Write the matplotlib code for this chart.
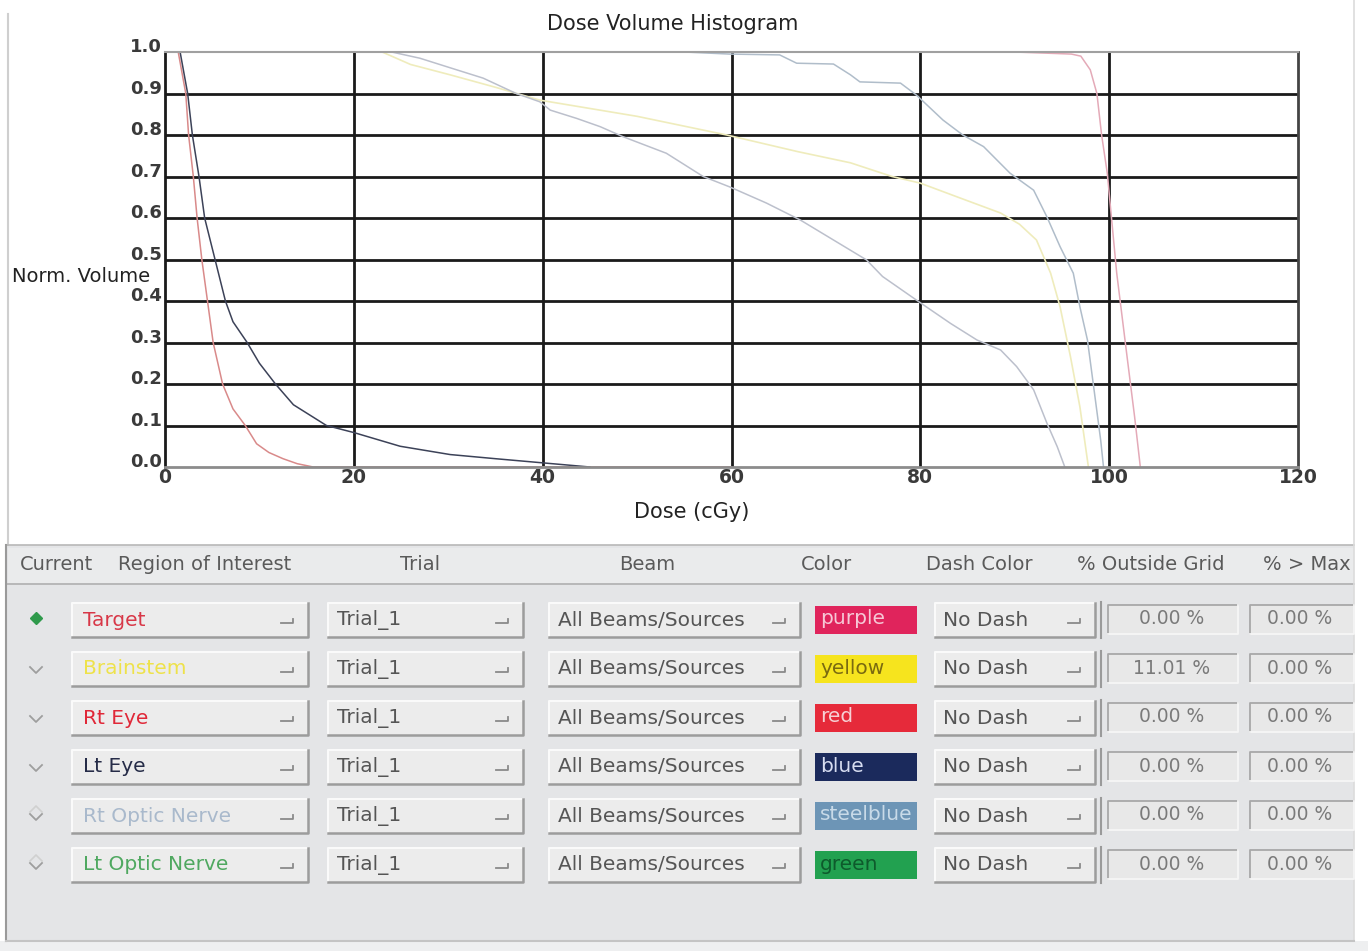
import matplotlib
matplotlib.use('Agg')
import matplotlib.pyplot as plt
from matplotlib.patches import Rectangle

plt.rcParams['font.family'] = 'DejaVu Sans'
plt.rcParams['ytick.alignment'] = 'baseline'

# DVH curves (dose in cGy, normalised volume)
target_dose = [0, 90, 96, 97, 98, 98.7, 99.2, 99.8, 100.8, 101.9, 102.7, 103.3]
target_vol = [1.0, 1.0, 0.995, 0.99, 0.957, 0.9, 0.8, 0.708, 0.467, 0.265, 0.12, 0.0]

brainstem_dose = [0, 20, 23, 26, 30.2, 35, 39.7, 50, 59.5, 67, 72.6, 77, 80, 84, 88.5, 90.5, 92.3, 93.8, 94.8, 95.9, 96.9, 97.8]
brainstem_vol = [1.0, 1.0, 1.0, 0.97, 0.945, 0.915, 0.884, 0.845, 0.80, 0.76, 0.733, 0.70, 0.684, 0.65, 0.612, 0.585, 0.547, 0.467, 0.386, 0.266, 0.145, 0.0]

rt_eye_dose = [0, 1.4, 2.2, 2.5, 3.0, 3.4, 3.9, 4.5, 5.1, 6.1, 7.2, 8.5, 9.7, 11.0, 12.5, 14.0, 15.7, 30, 45, 60]
rt_eye_vol = [1.0, 1.0, 0.9, 0.8, 0.7, 0.6, 0.5, 0.4, 0.3, 0.2, 0.14, 0.1, 0.056, 0.035, 0.02, 0.008, 0.0, 0.0, 0.0, 0.0]

lt_eye_dose = [0, 1.6, 2.4, 2.9, 3.6, 4.2, 5.3, 6.4, 7.2, 8.7, 10.0, 11.7, 13.6, 17.1, 20, 24.9, 30.2, 35, 40, 45]
lt_eye_vol = [1.0, 1.0, 0.9, 0.8, 0.7, 0.6, 0.5, 0.4, 0.35, 0.3, 0.25, 0.2, 0.15, 0.1, 0.083, 0.05, 0.03, 0.02, 0.01, 0.0]

rt_on_dose = [0, 55, 59.8, 65.1, 66.9, 70.8, 72.6, 73.6, 77.9, 79.6, 82.4, 84.5, 86.7, 89.5, 92.0, 93.4, 94.8, 96.2, 96.9, 97.7, 98.4, 99.1, 99.4]
rt_on_vol = [1.0, 1.0, 0.995, 0.993, 0.973, 0.971, 0.945, 0.928, 0.925, 0.896, 0.836, 0.80, 0.772, 0.708, 0.667, 0.603, 0.531, 0.467, 0.386, 0.306, 0.186, 0.065, 0.0]

lt_on_dose = [0, 20, 24, 27, 30.2, 33.7, 37.2, 39.7, 40.8, 43.6, 46.1, 48.5, 53.1, 57, 59.8, 63.7, 67.3, 70.8, 74.3, 76, 79.6, 83.2, 86, 88.5, 90.2, 92, 93.4, 94.5, 95.3]
lt_on_vol = [1.0, 1.0, 1.0, 0.985, 0.962, 0.937, 0.90, 0.88, 0.86, 0.84, 0.82, 0.796, 0.756, 0.70, 0.675, 0.636, 0.595, 0.547, 0.499, 0.459, 0.402, 0.346, 0.306, 0.282, 0.242, 0.186, 0.106, 0.049, 0.0]

xticks = [0, 20, 40, 60, 80, 100, 120]
yticks = [0.0, 0.1, 0.2, 0.3, 0.4, 0.5, 0.6, 0.7, 0.8, 0.9, 1.0]

# table below the plot
roi_names = ['Target', 'Brainstem', 'Rt Eye', 'Lt Eye', 'Rt Optic Nerve', 'Lt Optic Nerve']
roi_text_colors = ['#d83848', '#eee24a', '#e02838', '#262c48', '#a9b9cc', '#4fa860']
trials = ['Trial_1'] * 6
beams = ['All Beams/Sources'] * 6
color_names = ['purple', 'yellow', 'red', 'blue', 'steelblue', 'green']
swatch_colors = ['#e0245c', '#f6e41e', '#e62a3a', '#1b2a5c', '#6d95b6', '#22a150']
swatch_text = ['#f6c8d6', '#7a6a10', '#f6d0d4', '#d6dcf0', '#c8dae8', '#0e5a2c']
dashes = ['No Dash'] * 6
outside_grid = ['0.00 %', '11.01 %', '0.00 %', '0.00 %', '0.00 %', '0.00 %']
over_max = ['0.00 %'] * 6
headers = ['Current', 'Region of Interest', 'Trial', 'Beam', 'Color', 'Dash Color', '% Outside Grid', '% > Max']

fig = plt.figure(figsize=(13.68, 9.51), dpi=100)
fig.patch.set_facecolor('white')

ui = fig.add_axes([0, 0, 1, 1])
ui.set_xlim(0, 1368)
ui.set_ylim(951, 0)
ui.axis('off')

# panel background
ui.plot([8, 8], [14, 545], color='#cfcfcf', lw=1.5)
ui.add_patch(Rectangle((6, 545), 1348, 396, fc='#e4e5e7', ec='none'))
ui.add_patch(Rectangle((0, 941), 1368, 10, fc='#eeeff0', ec='none'))
ui.add_patch(Rectangle((8, 548), 1346, 35, fc='#eaebec', ec='none'))
ui.plot([6, 1354], [545, 545], color='#b8b8b8', lw=1.2)
ui.plot([6, 1354], [584, 584], color='#b0b0b0', lw=1.2)
ui.plot([6, 6], [545, 941], color='#9a9a9a', lw=1.5)
ui.plot([1354, 1354], [0, 941], color='#dcdcdc', lw=1.2)
ui.plot([6, 1354], [941, 941], color='#c4c4c4', lw=1.5)

hdr_kw = dict(fontsize=14, color='#5a5a5a', va='center')
ui.text(20, 565, headers[0], ha='left', **hdr_kw)
ui.text(118, 565, headers[1], ha='left', **hdr_kw)
ui.text(420, 565, headers[2], ha='center', **hdr_kw)
ui.text(647, 565, headers[3], ha='center', **hdr_kw)
ui.text(826, 565, headers[4], ha='center', **hdr_kw)
ui.text(926, 565, headers[5], ha='left', **hdr_kw)
ui.text(1077, 565, headers[6], ha='left', **hdr_kw)
ui.text(1263, 565, headers[7], ha='left', **hdr_kw)


def raised(x0, y0, x1, y1, mark=True):
    ui.add_patch(Rectangle((x0, y0), x1 - x0, y1 - y0, fc='#ececec', ec='none'))
    ui.plot([x0, x0, x1], [y1, y0, y0], color='#fafafa', lw=1.5)
    ui.plot([x0, x1, x1], [y1, y1, y0], color='#9c9c9c', lw=1.8)
    if mark:
        xm, ym = x1 - 20, (y0 + y1) / 2
        ui.plot([xm - 7, xm + 5, xm + 5], [ym + 3, ym + 3, ym - 1], color='#8a8a8a', lw=1.3)


def sunken(x0, y0, x1, y1):
    ui.add_patch(Rectangle((x0, y0), x1 - x0, y1 - y0, fc='#e8e8e8', ec='none'))
    ui.plot([x0, x0, x1], [y1, y0, y0], color='#a8a8a8', lw=1.3)
    ui.plot([x0, x1, x1], [y1, y1, y0], color='#f6f6f6', lw=1.3)


row_y = [620, 669, 718, 767, 816, 865]
txt_kw = dict(fontsize=14.5, va='center')
for i, yc in enumerate(row_y):
    # current selector
    if i == 0:
        ui.plot([36], [yc - 2], marker='D', ms=6, color='#2f9a4c')
    else:
        ui.plot([30, 36, 42], [yc - 2, yc + 4, yc - 2], color='#9e9e9e', lw=1.3)
        if i >= 4:
            ui.plot([30, 36, 42], [yc - 4, yc - 10, yc - 4], color='#d0d0d0', lw=1.2)
    raised(72, yc - 17, 308, yc + 17)
    ui.text(83, yc, roi_names[i], color=roi_text_colors[i], ha='left', **txt_kw)
    raised(328, yc - 17, 523, yc + 17)
    ui.text(337, yc, trials[i], color='#555555', ha='left', **txt_kw)
    raised(549, yc - 17, 800, yc + 17)
    ui.text(558, yc, beams[i], color='#555555', ha='left', **txt_kw)
    ui.add_patch(Rectangle((815, yc - 14), 102, 28, fc=swatch_colors[i], ec='none'))
    ui.text(820, yc - 1, color_names[i], color=swatch_text[i], ha='left', **txt_kw)
    raised(935, yc - 17, 1095, yc + 17)
    ui.text(943, yc, dashes[i], color='#555555', ha='left', **txt_kw)
    ui.plot([1101, 1101], [yc - 18, yc + 18], color='#9a9a9a', lw=1.5)
    sunken(1108, yc - 15, 1238, yc + 14)
    ui.text(1172, yc - 1, outside_grid[i], color='#7a7a7a', ha='center', fontsize=13.5, va='center')
    sunken(1250, yc - 15, 1354, yc + 14)
    ui.text(1300, yc - 1, over_max[i], color='#7a7a7a', ha='center', fontsize=13.5, va='center')

# DVH plot
ax = fig.add_axes([165 / 1368, 1 - 467 / 951, 1133 / 1368, 415 / 951])
ax.set_facecolor('white')
for v in xticks[1:-1]:
    ax.axvline(v, color='#1a1a1a', lw=2, zorder=1)
for v in yticks[1:-1]:
    ax.axhline(v, color='#1a1a1a', lw=2, zorder=1)

ax.plot(rt_eye_dose, rt_eye_vol, color='#d98a8a', lw=1.1, zorder=2)
ax.plot(lt_eye_dose, lt_eye_vol, color='#3c4258', lw=1.1, zorder=2)
ax.plot(brainstem_dose, brainstem_vol, color='#efecbc', lw=1.2, zorder=2)
ax.plot(lt_on_dose, lt_on_vol, color='#bcc0cc', lw=1.1, zorder=2)
ax.plot(rt_on_dose, rt_on_vol, color='#b0bdca', lw=1.1, zorder=2)
ax.plot(target_dose, target_vol, color='#e4aab8', lw=1.1, zorder=2)

ax.set_xlim(0, 120)
ax.set_ylim(0, 1)
ax.set_xticks(xticks)
ax.set_xticklabels([str(v) for v in xticks])
ax.set_yticks(yticks)
ax.set_yticklabels(['%.1f' % v for v in yticks])
ax.tick_params(axis='x', length=0, pad=1, labelsize=13.5, labelcolor='#3a3a3a')
ax.tick_params(axis='y', length=0, pad=2, labelsize=13, labelcolor='#3a3a3a')
for lbl in ax.get_xticklabels() + ax.get_yticklabels():
    lbl.set_fontweight('bold')
ax.spines['top'].set_color('#a0a0a0')
ax.spines['top'].set_linewidth(1.5)
ax.spines['bottom'].set_color('#8c8c8c')
ax.spines['bottom'].set_linewidth(2)
ax.spines['left'].set_color('#1a1a1a')
ax.spines['left'].set_linewidth(2)
ax.spines['right'].set_color('#444444')
ax.spines['right'].set_linewidth(2)

fig.text(673 / 1368, 1 - 24 / 951, 'Dose Volume Histogram', ha='center', va='center', fontsize=15, color='#222222')
fig.text(12 / 1368, 1 - 276 / 951, 'Norm. Volume', ha='left', va='center', fontsize=14, color='#222222')
fig.text(692 / 1368, 1 - 512 / 951, 'Dose (cGy)', ha='center', va='center', fontsize=15, color='#222222')

fig.savefig('out.png', dpi=100)
